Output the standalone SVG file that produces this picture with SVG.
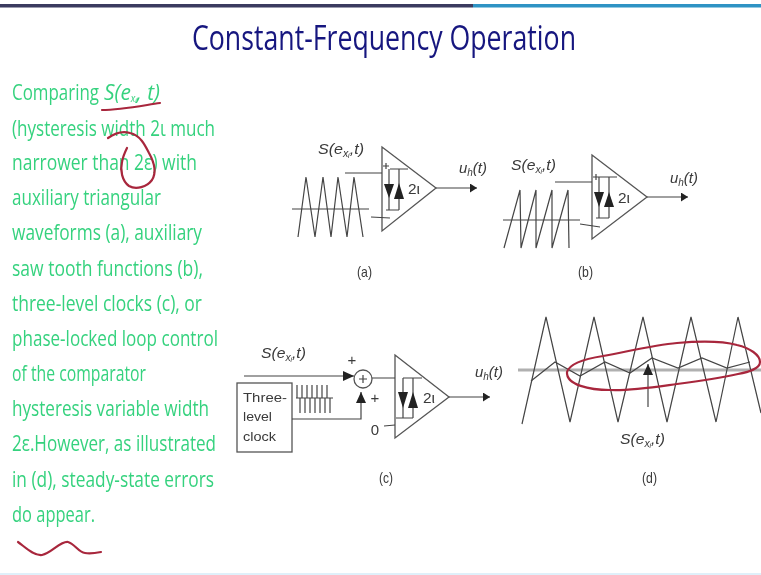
<svg xmlns="http://www.w3.org/2000/svg" width="761" height="575" viewBox="0 0 761 575">
<style>
.body{font-family:"Open Sans","Liberation Sans",sans-serif;font-size:22px;fill:#35d27e}
.title{font-family:"Open Sans","Liberation Sans",sans-serif;font-size:35px;fill:#17177f}
.lab{font-family:"Liberation Sans",Arial,sans-serif;font-size:15px;fill:#3a3a3a}
.clk{font-size:13px}
.it{font-style:italic}
.sub{font-size:10px}
.w{fill:none;stroke:#444;stroke-width:1.2}
.amp{fill:none;stroke:#555;stroke-width:1.3}
.d{fill:#222;stroke:none}
.red{fill:none;stroke:#a8283c;stroke-width:2.2;stroke-linecap:round;stroke-linejoin:round}
</style>
<defs>
<filter id="soft" x="0" y="0" width="100%" height="100%"><feGaussianBlur stdDeviation="0.5"/></filter>
<marker id="ah" markerUnits="userSpaceOnUse" markerWidth="8" markerHeight="10" refX="7" refY="4.500" orient="auto"><path d="M0 0L7 4.500L0 9Z" fill="#222"/></marker>
<marker id="ab" markerUnits="userSpaceOnUse" markerWidth="12" markerHeight="11" refX="11" refY="5" orient="auto"><path d="M0 0L11 5L0 10Z" fill="#222"/></marker>
</defs>
<rect width="761" height="575" fill="#fff"/>
<g filter="url(#soft)">
<rect x="0" y="4" width="473" height="3.500" fill="#3a3a5e"/>
<rect x="473" y="4" width="288" height="3.500" fill="#2e93c4"/>
<rect x="0" y="573" width="761" height="2" fill="#dff0fa"/>

<text id="title" class="title" x="192" y="50" textLength="384" lengthAdjust="spacingAndGlyphs">Constant-Frequency Operation</text>

<g id="body-text">
<text class="body" x="12" y="100" textLength="87" lengthAdjust="spacingAndGlyphs">Comparing</text>
<text class="body it" x="104" y="100" textLength="56" lengthAdjust="spacingAndGlyphs">S(e<tspan class="sub" dy="2">xᵢ</tspan><tspan dy="-2">, t)</tspan></text>
<text class="body" x="12" y="136" textLength="203" lengthAdjust="spacingAndGlyphs">(hysteresis width 2ι much</text>
<text class="body" x="12" y="170" textLength="185" lengthAdjust="spacingAndGlyphs">narrower than 2ε) with</text>
<text class="body" x="12" y="205" textLength="149" lengthAdjust="spacingAndGlyphs">auxiliary triangular</text>
<text class="body" x="12" y="240" textLength="190" lengthAdjust="spacingAndGlyphs">waveforms (a), auxiliary</text>
<text class="body" x="12" y="276" textLength="191" lengthAdjust="spacingAndGlyphs">saw tooth functions (b),</text>
<text class="body" x="12" y="311" textLength="190" lengthAdjust="spacingAndGlyphs">three-level clocks (c), or</text>
<text class="body" x="12" y="346" textLength="206" lengthAdjust="spacingAndGlyphs">phase-locked loop control</text>
<text class="body" x="12" y="381" textLength="134" lengthAdjust="spacingAndGlyphs">of the comparator</text>
<text class="body" x="12" y="416" textLength="197" lengthAdjust="spacingAndGlyphs">hysteresis variable width</text>
<text class="body" x="12" y="451" textLength="204" lengthAdjust="spacingAndGlyphs">2ε.However, as illustrated</text>
<text class="body" x="12" y="487" textLength="202" lengthAdjust="spacingAndGlyphs">in (d), steady-state errors</text>
<text class="body" x="12" y="522" textLength="83" lengthAdjust="spacingAndGlyphs">do appear.</text>
</g>

<g id="panel-a">
<path class="w" d="M298 237L306 177L315 237L323 177L331 237L338 177L347 237L354 177L363 237M292 209H369"/>
<path class="amp" d="M382 147L436 188L382 231Z"/>
<path class="w" d="M383 166H389M386 163V169M390 169H408M389 169V210M399 169V210M386 210H399"/>
<path class="d" d="M384 184H394L389 198ZM394 199H404L399 183Z"/>
<text class="lab" x="408" y="194" textLength="12" lengthAdjust="spacingAndGlyphs">2ι</text>
<text class="lab it" x="318" y="154" textLength="46" lengthAdjust="spacingAndGlyphs">S(e<tspan class="sub" dy="3">xᵢ</tspan><tspan dy="-3">,t)</tspan></text>
<text class="lab it" x="459" y="173" textLength="28" lengthAdjust="spacingAndGlyphs">u<tspan class="sub" dy="3">h</tspan><tspan dy="-3">(t)</tspan></text>
<text class="lab" x="357" y="277" textLength="15" lengthAdjust="spacingAndGlyphs">(a)</text>
</g>

<g id="panel-b">
<path class="w" d="M504 248L520 190L521 248L536 190L536 248L552 190L552 248L568 190L569 248M503 220H580"/>
<path class="amp" d="M592 155L647 197L592 239Z"/>
<path class="w" d="M593 177H599M596 174V180M595 177H617M599 177V218M609 177V218M596 218H609"/>
<path class="d" d="M594 192H604L599 207ZM604 207H614L609 192Z"/>
<text class="lab" x="618" y="203" textLength="12" lengthAdjust="spacingAndGlyphs">2ι</text>
<text class="lab it" x="511" y="170" textLength="45" lengthAdjust="spacingAndGlyphs">S(e<tspan class="sub" dy="3">xᵢ</tspan><tspan dy="-3">,t)</tspan></text>
<text class="lab it" x="670" y="183" textLength="28" lengthAdjust="spacingAndGlyphs">u<tspan class="sub" dy="3">h</tspan><tspan dy="-3">(t)</tspan></text>
<text class="lab" x="578" y="277" textLength="15" lengthAdjust="spacingAndGlyphs">(b)</text>
</g>

<g id="panel-c">
<g id="three-level-clock">
<rect class="amp" x="237" y="383" width="55" height="69"/>
<text class="lab clk" x="243" y="402" textLength="44" lengthAdjust="spacingAndGlyphs">Three-</text>
<text class="lab clk" x="243" y="421" textLength="29" lengthAdjust="spacingAndGlyphs">level</text>
<text class="lab clk" x="243" y="441" textLength="33" lengthAdjust="spacingAndGlyphs">clock</text>
</g>
<path class="w" d="M296 398H333M297 385V398M302 385V398M307 385V398M312 385V398M317 385V398M322 385V398M327 385V398M300 398V413M305 398V413M310 398V413M315 398V413M320 398V413M325 398V413M330 398V413"/>
<g id="summer">
<circle class="amp" cx="363" cy="379" r="9"/>
<path class="w" d="M359 379H367M363 375V383"/>
<text class="lab" x="352" y="365" text-anchor="middle">+</text>
<text class="lab" x="375" y="403" text-anchor="middle">+</text>
</g>
<path class="amp" d="M395 355L449 397L395 438Z"/>
<path class="w" d="M403 378H422M403 378V418M413 378V418M396 418H413"/>
<path class="d" d="M398 392H408L403 408ZM408 408H418L413 392Z"/>
<text class="lab" x="423" y="403" textLength="12" lengthAdjust="spacingAndGlyphs">2ι</text>
<text class="lab" x="375" y="435" text-anchor="middle">0</text>
<text class="lab it" x="261" y="358" textLength="45" lengthAdjust="spacingAndGlyphs">S(e<tspan class="sub" dy="3">xᵢ</tspan><tspan dy="-3">,t)</tspan></text>
<text class="lab it" x="475" y="377" textLength="28" lengthAdjust="spacingAndGlyphs">u<tspan class="sub" dy="3">h</tspan><tspan dy="-3">(t)</tspan></text>
<text class="lab" x="379" y="483" textLength="14" lengthAdjust="spacingAndGlyphs">(c)</text>
</g>

<g id="panel-d">
<path d="M518 370H761" fill="none" stroke="#b0b0b0" stroke-width="3"/>
<path class="w" d="M522 424L546 317L570 422L594 317L618 422L643 317L667 422L691 317L716 422L738 317L761 413"/>
<path class="w" d="M531 381L555 362L580 376L605 362L630 373L652 358L678 368L702 358L727 368L750 362"/>
<text class="lab it" x="620" y="444" textLength="45" lengthAdjust="spacingAndGlyphs">S(e<tspan class="sub" dy="3">xᵢ</tspan><tspan dy="-3">,t)</tspan></text>
<text class="lab" x="642" y="483" textLength="15" lengthAdjust="spacingAndGlyphs">(d)</text>
</g>

<g id="connectors">
<path class="w" d="M345 173H382M371 217L390 218"/>
<path class="w" d="M436 188H477" marker-end="url(#ah)"/>
<path class="w" d="M555 182H592M580 224L600 227"/>
<path class="w" d="M647 197H688" marker-end="url(#ah)"/>
<path class="w" d="M244 376H354" marker-end="url(#ab)"/>
<path class="w" d="M292 419H361V392" marker-end="url(#ab)"/>
<path class="w" d="M372 378H395M384 426L395 425"/>
<path class="w" d="M449 397H490" marker-end="url(#ah)"/>
<path class="w" d="M648 407V364" marker-end="url(#ab)"/>
</g>

<g id="annotations">
<path class="red" d="M567 372C570 362 590 358 603 356C630 351 655 345 677 343C700 341 722 341 737 345C750 348 760 355 760 362C760 369 748 372 738 374C720 378 700 381 677 384C655 387 630 391 610 390C590 390 566 385 567 372Z"/>
<path class="red" d="M102 110C120 110 140 106 160 103"/>
<path class="red" d="M108 138C115 133 123 131 130 133C140 135 145 145 149 153C154 162 157 172 152 180C147 187 136 190 129 186C122 181 120 170 122 162C123 156 125 152 127 148"/>
<path class="red" d="M18 542C24 546 33 556 42 555C52 553 60 541 68 542C75 544 78 552 85 553C90 554 96 553 101 552"/>
</g>
</g>
</svg>
